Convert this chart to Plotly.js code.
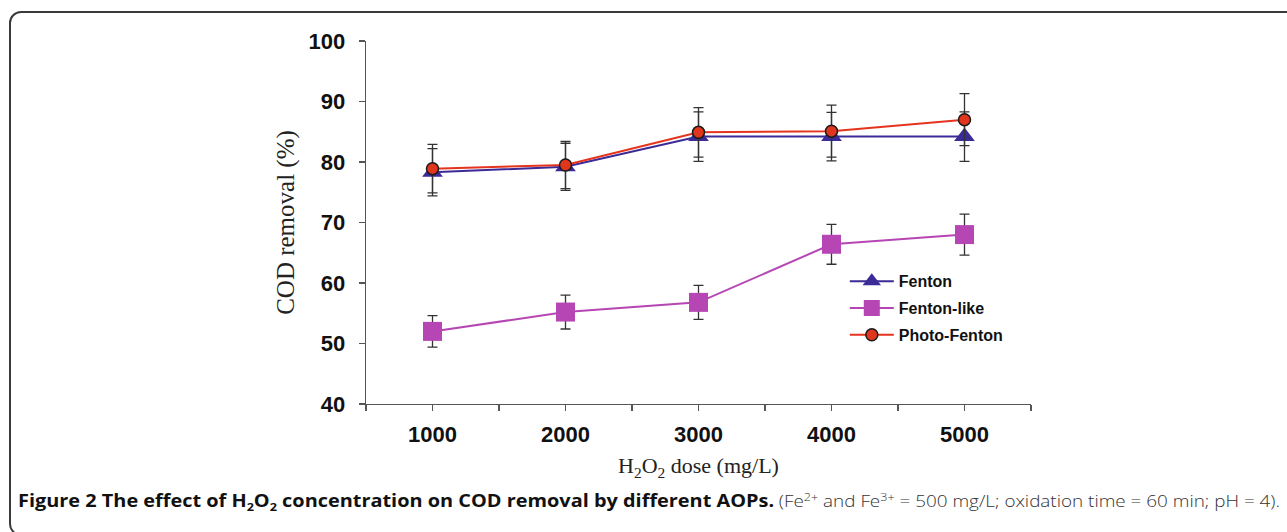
<!DOCTYPE html>
<html>
<head>
<meta charset="utf-8">
<script src="https://cdn.plot.ly/plotly-3.0.1.min.js"></script>
<style>
  html, body { margin: 0; padding: 0; background: #fff; }
  #wrap { position: relative; width: 1287px; height: 532px; overflow: hidden; }
  #chart { position: absolute; left: 0; top: 0; width: 1287px; height: 532px; }
  #frame { position: absolute; left: 9px; top: 11px; width: 1320px; height: 525px;
           border: 2px solid #3a3a3a; border-radius: 12px; pointer-events: none; box-sizing: border-box; }
  #caption { position: absolute; left: 18px; top: 488px; white-space: nowrap;
             font-family: "Open Sans", sans-serif; color: #111; transform-origin: 0 0; }
  #caption b { font-weight: 700; color: #111; font-size: 17.4px; }
  #caption .light { font-weight: 300; color: #333; font-size: 16.5px; }
  #caption sub, #caption sup { font-size: 11px; }
</style>
</head>
<body>
<div id="wrap">
  <div id="chart"></div>
  <div id="frame"></div>
  <div id="caption"><b>Figure 2 The effect of H<sub>2</sub>O<sub>2</sub> concentration on COD removal by different AOPs.</b> <span class="light">(Fe<sup>2+</sup> and Fe<sup>3+</sup> = 500 mg/L; oxidation time = 60 min; pH = 4).</span></div>
</div>
<script>
// Data
const doses = [1000, 2000, 3000, 4000, 5000];
const fenton = [78.3, 79.2, 84.2, 84.2, 84.2];
const fentonErr = [3.9, 3.9, 4.1, 4.0, 4.1];
const fentonLike = [52.0, 55.2, 56.8, 66.4, 68.0];
const fentonLikeErr = [2.6, 2.8, 2.8, 3.3, 3.4];
const photoFenton = [78.9, 79.5, 84.9, 85.1, 87.0];
const photoFentonErr = [4.0, 3.9, 4.1, 4.3, 4.3];
const seriesNames = ["Fenton", "Fenton-like", "Photo-Fenton"];
const xTickVals = [500, 1000, 1500, 2000, 2500, 3000, 3500, 4000, 4500, 5000, 5500];
const xTickText = ["", "1000", "", "2000", "", "3000", "", "4000", "", "5000", ""];
const yTickVals = [40, 50, 60, 70, 80, 90, 100];

const errStyle = (arr) => ({ type: "data", array: arr, visible: true, color: "#333333", thickness: 1.3, width: 5 });

const traces = [
  {
    x: doses, y: fenton, name: seriesNames[0], legendgroup: "a", type: "scatter", mode: "lines+markers",
    line: { color: "#3a2b96", width: 2 },
    marker: { symbol: "triangle-up", size: 18, color: "#3a2b96", line: { width: 0 } },
    error_y: errStyle(fentonErr)
  },
  {
    x: doses, y: fentonLike, name: seriesNames[1], legendgroup: "b", type: "scatter", mode: "lines+markers",
    line: { color: "#b646b4", width: 2 },
    marker: { symbol: "square", size: 19, color: "#b646b4", line: { width: 0 } },
    error_y: errStyle(fentonLikeErr)
  },
  {
    x: doses, y: photoFenton, name: seriesNames[2], legendgroup: "c", type: "scatter", mode: "lines+markers",
    line: { color: "#e5341d", width: 2 },
    marker: { symbol: "circle", size: 12, color: "#e0361e", line: { width: 1.5, color: "#1a1a1a" } },
    error_y: errStyle(photoFentonErr)
  }
];

const layout = {
  width: 1287, height: 532,
  paper_bgcolor: "rgba(0,0,0,0)", plot_bgcolor: "rgba(0,0,0,0)",
  margin: { l: 366, r: 256, t: 41, b: 128 },
  showlegend: true,
  legend: {
    x: 0.72, y: 0.385, xanchor: "left", yanchor: "top",
    bgcolor: "rgba(0,0,0,0)", tracegroupgap: 3,
    font: { family: "Liberation Sans, Arial, sans-serif", size: 16, color: "#111", weight: "bold" },
    itemwidth: 44
  },
  xaxis: {
    range: [500, 5500], tickmode: "array", tickvals: xTickVals, ticktext: xTickText,
    showgrid: false, zeroline: false, showline: true, linecolor: "#555", linewidth: 1.3,
    ticks: "outside", ticklen: 6, tickcolor: "#555", tickwidth: 1.3,
    ticklabelstandoff: 4,
    tickfont: { family: "Liberation Sans, Arial, sans-serif", size: 22, color: "#111", weight: "bold" },
    title: { text: "H<sub>2</sub>O<sub>2</sub> dose (mg/L)", standoff: 12,
             font: { family: "Liberation Serif, Times New Roman, serif", size: 22, color: "#222" } }
  },
  yaxis: {
    range: [40, 100], tickmode: "array", tickvals: yTickVals,
    showgrid: false, zeroline: false, showline: true, linecolor: "#555", linewidth: 1.3,
    ticks: "outside", ticklen: 6, tickcolor: "#555", tickwidth: 1.3,
    ticklabelstandoff: 9,
    tickfont: { family: "Liberation Sans, Arial, sans-serif", size: 22, color: "#111", weight: "bold" },
    title: { text: "COD removal (%)", standoff: 6,
             font: { family: "Liberation Serif, Times New Roman, serif", size: 25, color: "#222" } }
  }
};

Plotly.newPlot("chart", traces, layout, { displayModeBar: false, staticPlot: true }).then(() => {
  const cap = document.getElementById("caption");
  const w = cap.getBoundingClientRect().width;
  const target = 1262;
  if (w > 0) cap.style.transform = "scaleX(" + (target / w) + ")";
});
</script>
</body>
</html>
